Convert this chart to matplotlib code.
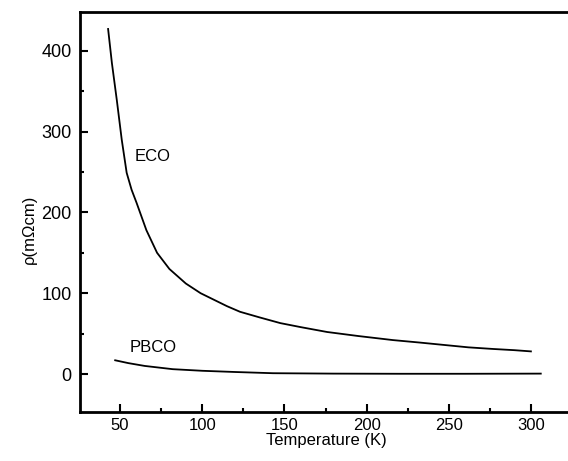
import matplotlib.pyplot as plt
from matplotlib.ticker import MultipleLocator

# data
eco_T = [42.7, 45, 48, 51, 54, 57, 60, 66, 72.5, 80, 90, 99, 107, 115, 123, 135, 147.5, 160, 176, 195, 216, 232, 247, 262, 277, 290, 300]
eco_rho = [427, 385, 339, 290, 249, 228, 212, 178, 150, 130, 112, 100, 92, 84, 77, 70, 63, 58, 52, 47, 42, 39, 36, 33, 31, 29.5, 28]
pbco_T = [47, 55, 65, 82, 100, 120, 143, 180, 220, 260, 306]
pbco_rho = [17, 13.5, 10, 6, 4, 2.5, 1, 0.5, 0.3, 0.3, 0.5]

plt.rcParams['font.family'] = ['Liberation Sans', 'DejaVu Sans']

fig = plt.figure(figsize=(5.68, 4.61), dpi=100)
ax = fig.add_axes([80 / 568, 49 / 461, 492 / 568, 400 / 461])

ax.plot(eco_T, eco_rho, color='black', lw=1.3)
ax.plot(pbco_T, pbco_rho, color='black', lw=1.3)

ax.text(70, 269, 'ECO', fontsize=12, ha='center', va='center')
ax.text(70, 33, 'PBCO', fontsize=12, ha='center', va='center')

ax.set_xlim(25.6, 325)
ax.set_ylim(-47, 448)
ax.xaxis.set_major_locator(MultipleLocator(50))
ax.xaxis.set_minor_locator(MultipleLocator(25))
ax.yaxis.set_major_locator(MultipleLocator(100))
ax.yaxis.set_minor_locator(MultipleLocator(50))
ax.tick_params(which='both', direction='in', width=1.5)
ax.tick_params(which='major', length=6)
ax.tick_params(which='minor', length=3)
ax.tick_params(axis='x', pad=4, labelsize=12)
ax.tick_params(axis='y', pad=6, labelsize=13)
for s in ax.spines.values():
    s.set_linewidth(2)

ax.set_xlabel('Temperature (K)', fontsize=12, labelpad=0)
ax.set_ylabel('ρ(mΩcm)', fontsize=12)
ax.yaxis.set_label_coords(-0.087, 0.457)

fig.savefig('out.png', dpi=100)
